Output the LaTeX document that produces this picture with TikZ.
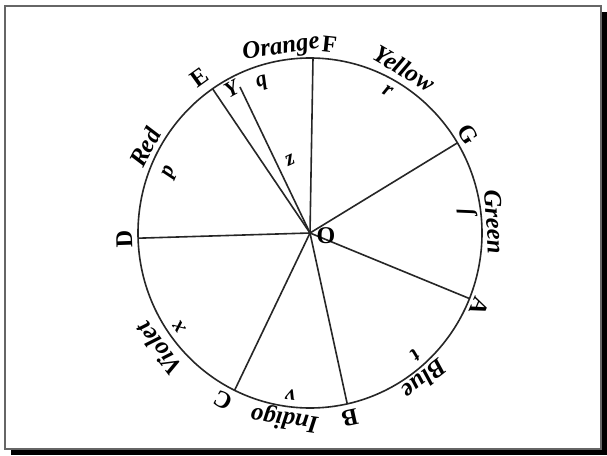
\documentclass[tikz,border=0pt]{standalone}
\usepackage{fontspec}
\setmainfont{Liberation Serif}

\begin{document}
\begin{tikzpicture}[x=1pt,y=1pt,
  every node/.style={inner sep=0pt},
  ink/.style={line width=1.6pt,black!85},
  pointlbl/.style={font=\fontsize{24}{24}\selectfont\bfseries},
  colourlbl/.style={font=\fontsize{25}{25}\selectfont\bfseries\itshape},
  centrelbl/.style={font=\fontsize{22}{22}\selectfont\bfseries\itshape}]
\useasboundingbox (-310,-222) rectangle (297,233);
% frame with its shadow
\fill[black] (-299,-222) rectangle (297,221);
\draw[black!60,line width=1.2pt,fill=white] (-305,-216) rectangle (291,227);

% the circle and its divisions
\coordinate (O) at (0,0);
\draw[ink] (O) ellipse (172 and 175);
\foreach \p/\t in {D/181.7, E/124.5, F/89, G/31, A/-22, B/-77.5, C/-116}
  {\coordinate (\p) at (\t:172 and 175);
   \draw[ink] (O) -- (\p);}
\coordinate (Y) at (-70,146);
\draw[ink] (O) -- (Y);

% points
\node[pointlbl] (lblO) at (16,-3) {O};
\node[pointlbl,rotate=92] (lblD) at (182:{1.08*172} and {1.08*175}) {D};
\node[pointlbl,rotate=35.7] (lblE) at (125.7:{1.097*172} and {1.097*175}) {E};
\node[pointlbl,rotate=-6] (lblF) at (84:{1.085*172} and {1.085*175}) {F};
\node[pointlbl,rotate=-58.4] (lblG) at (31.6:{1.08*172} and {1.08*175}) {G};
\node[pointlbl,rotate=-113] (lblA) at (-23:{1.07*172} and {1.07*175}) {A};
\node[pointlbl,rotate=-167.6] (lblB) at (-77.6:{1.08*172} and {1.08*175}) {B};
\node[pointlbl,rotate=152] (lblC) at (-118:{1.08*172} and {1.08*175}) {C};
\node[centrelbl,rotate=29] (lblY) at (119:{0.94*172} and {0.94*175}) {Y};
\node[centrelbl,rotate=25] (lblZ) at (-20,73) {z};

% colours
\node[colourlbl,rotate=62.9] (red) at (152.9:{1.078*172} and {1.078*175}) {Red};
\node[colourlbl,rotate=9] (orange) at (99:{1.07*172} and {1.07*175}) {Orange};
\node[colourlbl,rotate=-30.3] (yellow) at (59.7:{1.09*172} and {1.09*175}) {Yellow};
\node[colourlbl,rotate=-86.6] (green) at (3.4:{1.077*172} and {1.077*175}) {Green};
\node[colourlbl,rotate=-141.5] (blue) at (-51.5:{1.07*172} and {1.07*175}) {Blue};
\node[colourlbl,rotate=-188] (indigo) at (-98:{1.07*172} and {1.07*175}) {Indigo};
\node[colourlbl,rotate=-233] (violet) at (-143:{1.1*172} and {1.1*175}) {Violet};

% centres of gravity of the arcs
\node[centrelbl,rotate=66.8] (p) at (156.8:{0.886*172} and {0.886*175}) {p};
\node[centrelbl,rotate=18] (q) at (108:{0.9*172} and {0.9*175}) {q};
\node[centrelbl,rotate=-29] (r) at (61:{0.93*172} and {0.93*175}) {r};
\node[centrelbl,rotate=-82.5] (s) at (7.5:{0.92*172} and {0.92*175}) {ſ};
\node[centrelbl,rotate=-138.8] (t) at (-48.8:{0.93*172} and {0.93*175}) {t};
\node[centrelbl,rotate=-187] (v) at (-97:{0.93*172} and {0.93*175}) {v};
\node[centrelbl,rotate=-234.6] (x) at (-144.6:{0.93*172} and {0.93*175}) {x};
\end{tikzpicture}
\end{document}
